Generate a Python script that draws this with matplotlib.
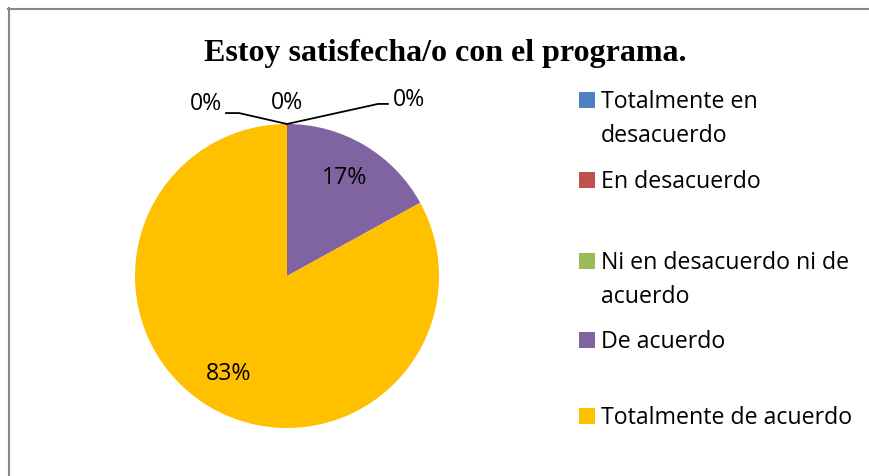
import numpy as np
import matplotlib.pyplot as plt
from matplotlib.patches import Rectangle
from matplotlib.lines import Line2D

categories = [
    "Totalmente en\ndesacuerdo",
    "En desacuerdo",
    "Ni en desacuerdo ni de\nacuerdo",
    "De acuerdo",
    "Totalmente de acuerdo",
]
percentages = [0, 0, 0, 17, 83]
colors = ["#4F81BD", "#C0504D", "#9BBB59", "#8064A2", "#FFC000"]

title = "Estoy satisfecha/o con el programa."

LABEL_FONT = "Open Sans"
LABEL_SIZE = 16.7

W, H = 869, 476
fig = plt.figure(figsize=(W / 100, H / 100), dpi=100)

# pie area: centre (287, 276) px, radius 152 px
cx, cy, r = 287, 276, 152
ax = fig.add_axes([(cx - r) / W, (H - cy - r) / H, 2 * r / W, 2 * r / H])

wedges, _ = ax.pie(
    percentages,
    colors=colors,
    startangle=90,
    counterclock=False,
    radius=1,
    wedgeprops=dict(linewidth=0),
)
ax.set_xlim(-1, 1)
ax.set_ylim(-1, 1)
ax.set_aspect("equal")
ax.axis("off")

# percentage labels
zero_offsets = [(-0.53, 1.13), (0.0, 1.135), (0.80, 1.16)]
zero_elbows = [[(-0.316, 1.072), (-0.401, 1.072)], None, [(0.599, 1.132), (0.664, 1.132)]]
zi = 0
for w, p in zip(wedges, percentages):
    mid = np.deg2rad((w.theta1 + w.theta2) / 2)
    if p > 0:
        ax.text(0.75 * np.cos(mid), 0.75 * np.sin(mid), f"{p}%",
                ha="center", va="center", family=LABEL_FONT, fontsize=LABEL_SIZE)
    else:
        ax0 = (np.cos(mid), np.sin(mid))
        tx, ty = zero_offsets[zi]
        ax.text(tx, ty, f"{p}%", ha="center", va="center",
                family=LABEL_FONT, fontsize=LABEL_SIZE, clip_on=False)
        if zero_elbows[zi] is not None:
            pts = [ax0] + zero_elbows[zi]
            ax.plot([q[0] for q in pts], [q[1] for q in pts],
                    color="black", lw=1.3, clip_on=False)
        zi += 1

fig.text(445 / W, 1 - 53 / H, title, ha="center", va="center",
         family="Liberation Serif", fontweight="bold", fontsize=23)

# legend, entries evenly spaced like the original, marker beside first line
leg_y = [100, 180, 261, 340, 416]
line_gap = 34
for lab, col, y in zip(categories, colors, leg_y):
    fig.add_artist(Rectangle((579 / W, 1 - (y + 8) / H), 16 / W, 16 / H,
                             transform=fig.transFigure, color=col, lw=0))
    for k, line in enumerate(lab.split("\n")):
        fig.text(601 / W, 1 - (y + 8 + k * line_gap) / H, line,
                 ha="left", va="baseline",
                 family=LABEL_FONT, fontsize=LABEL_SIZE)

# chart border
fig.add_artist(Line2D([8 / W, 1], [1 - 8.5 / H, 1 - 8.5 / H],
                      transform=fig.transFigure, color="#888888", lw=1.5))
fig.add_artist(Line2D([8.5 / W, 8.5 / W], [0, 1 - 8 / H],
                      transform=fig.transFigure, color="#888888", lw=1.5))

fig.savefig("out.png", dpi=100, facecolor="white")
